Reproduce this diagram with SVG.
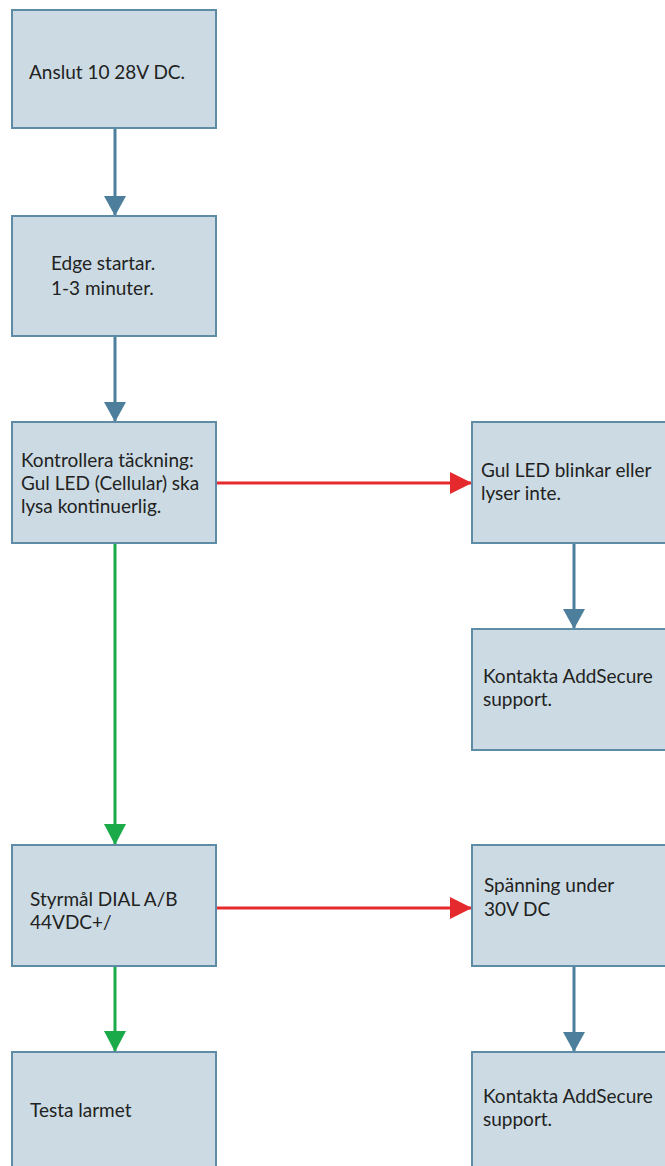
<svg xmlns="http://www.w3.org/2000/svg" width="665" height="1166" viewBox="0 0 665 1166">
<style>
.box{fill:#ccdbe3;stroke:#5e8ba6;stroke-width:2}
.t{font-family:Lato,"Open Sans",sans-serif;font-size:19px;fill:#222}
.blue{stroke:#4d7f9c;stroke-width:3;fill:none}
.red{stroke:#e52a2e;stroke-width:3;fill:none}
.green{stroke:#1aaa4a;stroke-width:3;fill:none}
</style>
<defs>
<marker id="ab" markerUnits="userSpaceOnUse" markerWidth="22" markerHeight="22" refX="19" refY="10.5" orient="auto" viewBox="0 0 19 21"><path d="M0,0 L19,10.5 L0,21 z" fill="#4d7f9c"/></marker>
<marker id="ar" markerUnits="userSpaceOnUse" markerWidth="22" markerHeight="22" refX="20" refY="10" orient="auto" viewBox="0 0 20 20"><path d="M0,0 L20,10 L0,20 z" fill="#e52a2e"/></marker>
<marker id="ag" markerUnits="userSpaceOnUse" markerWidth="22" markerHeight="22" refX="20" refY="10.5" orient="auto" viewBox="0 0 20 21"><path d="M0,0 L20,10.5 L0,21 z" fill="#1aaa4a"/></marker>
</defs>
<g id="connectors">
<line class="blue" x1="115" y1="128" x2="115" y2="216" marker-end="url(#ab)"/>
<line class="blue" x1="115" y1="336" x2="115" y2="422" marker-end="url(#ab)"/>
<line class="red" x1="216" y1="483" x2="472" y2="483" marker-end="url(#ar)"/>
<line class="blue" x1="574" y1="543" x2="574" y2="629" marker-end="url(#ab)"/>
<line class="green" x1="115" y1="543" x2="115" y2="845" marker-end="url(#ag)"/>
<line class="red" x1="216" y1="908" x2="472" y2="908" marker-end="url(#ar)"/>
<line class="blue" x1="574" y1="966" x2="574" y2="1052" marker-end="url(#ab)"/>
<line class="green" x1="115" y1="966" x2="115" y2="1052" marker-end="url(#ag)"/>
</g>
<g id="n1"><rect class="box" x="12" y="10" width="204" height="118"/><text class="t" x="29" y="79">Anslut 10 28V DC.</text></g>
<g id="n2"><rect class="box" x="12" y="216" width="204" height="120"/><text class="t" x="51" y="270">Edge startar.</text><text class="t" x="51" y="295">1-3 minuter.</text></g>
<g id="n3"><rect class="box" x="12" y="422" width="204" height="121"/><text class="t" x="21" y="467">Kontrollera täckning:</text><text class="t" x="21" y="490">Gul LED (Cellular) ska</text><text class="t" x="21" y="513">lysa kontinuerlig.</text></g>
<g id="n4"><rect class="box" x="472" y="422" width="204" height="121"/><text class="t" x="481" y="477">Gul LED blinkar eller</text><text class="t" x="481" y="500">lyser inte.</text></g>
<g id="n5"><rect class="box" x="472" y="629" width="204" height="121"/><text class="t" x="483" y="683">Kontakta AddSecure</text><text class="t" x="483" y="706">support.</text></g>
<g id="n6"><rect class="box" x="12" y="845" width="204" height="121"/><text class="t" x="30" y="906">Styrmål DIAL A/B</text><text class="t" x="30" y="929">44VDC+/</text></g>
<g id="n7"><rect class="box" x="472" y="845" width="204" height="121"/><text class="t" x="484" y="892">Spänning under</text><text class="t" x="484" y="916">30V DC</text></g>
<g id="n8"><rect class="box" x="12" y="1052" width="204" height="122"/><text class="t" x="30" y="1117">Testa larmet</text></g>
<g id="n9"><rect class="box" x="472" y="1052" width="204" height="122"/><text class="t" x="483" y="1103">Kontakta AddSecure</text><text class="t" x="483" y="1126">support.</text></g>
</svg>
